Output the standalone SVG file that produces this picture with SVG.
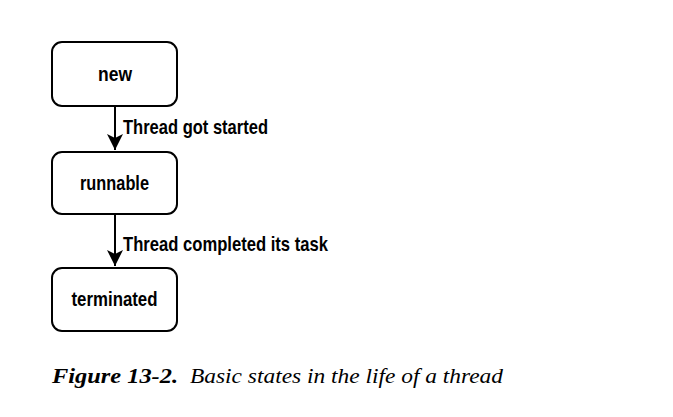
<svg xmlns="http://www.w3.org/2000/svg" width="673" height="417" viewBox="0 0 673 417">
  <style>
    .box { fill: #ffffff; stroke: #000000; stroke-width: 2; }
    .lbl { font-family: "Liberation Sans", Arial, sans-serif; font-weight: bold; font-size: 20.5px; fill: #000000; }
    .edge { stroke: #000000; stroke-width: 2; fill: none; }
    .cap { font-family: "Liberation Serif", "Times New Roman", serif; font-style: italic; font-size: 22px; fill: #000000; }
  </style>
  <defs>
    <marker id="arrow" markerUnits="userSpaceOnUse" viewBox="0 0 17 17" markerWidth="17" markerHeight="17" refX="16" refY="8.5" orient="auto">
      <path d="M0,0.5 L16,8.5 L0,16.5 L4,8.5 Z" fill="#000000"/>
    </marker>
  </defs>
  <rect width="673" height="417" fill="#ffffff"/>

  <g id="connectors">
    <g id="edge-new-runnable">
      <line class="edge" x1="115" y1="106" x2="115" y2="150" marker-end="url(#arrow)"/>
      <text class="lbl" x="123" y="134" textLength="145" lengthAdjust="spacingAndGlyphs">Thread got started</text>
    </g>
    <g id="edge-runnable-terminated">
      <line class="edge" x1="115" y1="214" x2="115" y2="266" marker-end="url(#arrow)"/>
      <text class="lbl" x="123" y="250.5" textLength="205" lengthAdjust="spacingAndGlyphs">Thread completed its task</text>
    </g>
  </g>

  <g id="node-new">
    <rect class="box" x="52" y="42" width="125" height="64" rx="10" ry="10"/>
    <text class="lbl" x="98" y="81" textLength="34" lengthAdjust="spacingAndGlyphs">new</text>
  </g>
  <g id="node-runnable">
    <rect class="box" x="52" y="152" width="125" height="62" rx="10" ry="10"/>
    <text class="lbl" x="80" y="190" textLength="69" lengthAdjust="spacingAndGlyphs">runnable</text>
  </g>
  <g id="node-terminated">
    <rect class="box" x="52" y="268" width="125" height="63" rx="10" ry="10"/>
    <text class="lbl" x="71.5" y="306" textLength="86" lengthAdjust="spacingAndGlyphs">terminated</text>
  </g>

  <g id="caption">
    <text class="cap" x="52" y="383"><tspan font-weight="bold" textLength="126" lengthAdjust="spacingAndGlyphs">Figure 13-2.</tspan></text>
    <text class="cap" x="190" y="383" textLength="313" lengthAdjust="spacingAndGlyphs">Basic states in the life of a thread</text>
  </g>
</svg>
